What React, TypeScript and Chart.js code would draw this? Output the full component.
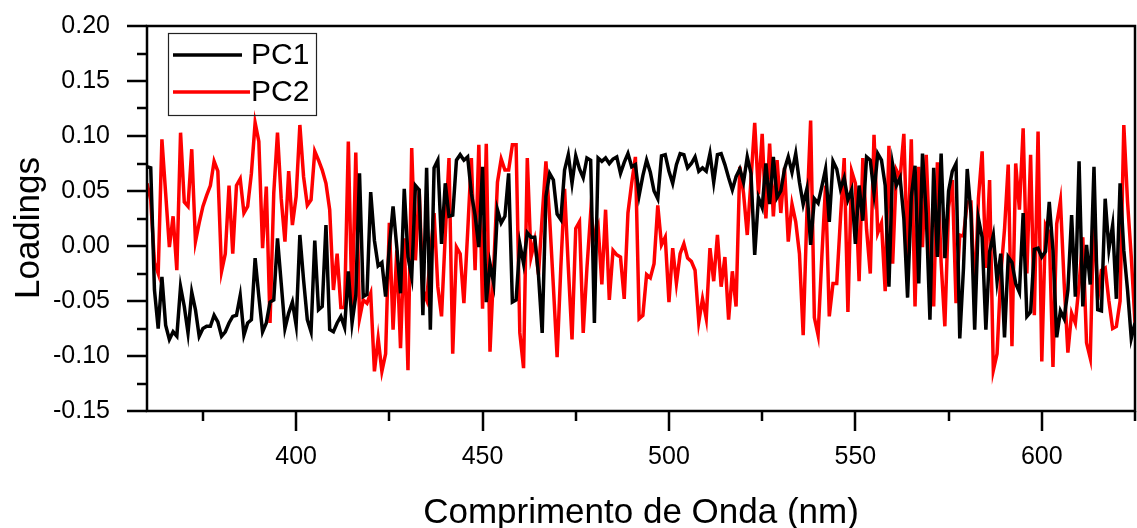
import React, { useEffect, useRef } from 'react';
import { Chart, registerables } from 'chart.js';

Chart.register(...registerables);

// Wavelength axis: 360 nm to 625 nm, one sample per nm
const WAVELENGTH_START = 360;

const PC1 = [
  0.072, 0.071, -0.040, -0.075, -0.028, -0.072, -0.085, -0.078, -0.082, -0.037,
  -0.055, -0.079, -0.042, -0.058, -0.082, -0.075, -0.073, -0.073, -0.063, -0.069,
  -0.082, -0.078, -0.070, -0.064, -0.063, -0.045, -0.081, -0.070, -0.067, -0.011,
  -0.046, -0.078, -0.070, -0.051, -0.049, 0.007, -0.034, -0.075, -0.061, -0.051,
  -0.072, 0.010, -0.031, -0.067, -0.078, 0.005, -0.058, -0.055, 0.019, -0.076,
  -0.078, -0.070, -0.064, -0.074, -0.023, -0.070, -0.045, 0.066, -0.046, -0.044,
  0.049, 0.005, -0.018, -0.015, -0.046, -0.001, 0.036, -0.001, -0.043, 0.052,
  -0.010, -0.028, 0.055, 0.051, -0.063, 0.071, -0.076, 0.071, 0.078, 0.002,
  0.057, 0.027, 0.028, 0.078, 0.083, 0.078, 0.081, 0.048, 0.028, -0.001,
  0.072, -0.051, -0.016, -0.034, 0.033, 0.021, 0.027, 0.066, -0.051, -0.049,
  0.002, -0.016, 0.012, 0.008, 0.008, -0.026, -0.079, 0.045, 0.066, 0.060,
  0.029, 0.024, 0.069, 0.083, 0.057, 0.082, 0.070, 0.062, 0.080, 0.078,
  -0.070, 0.080, 0.077, 0.080, 0.075, 0.079, 0.081, 0.066, 0.076, 0.084,
  0.072, 0.074, 0.046, 0.064, 0.078, 0.067, 0.050, 0.043, 0.082, 0.083,
  0.068, 0.057, 0.074, 0.084, 0.083, 0.071, 0.075, 0.081, 0.068, 0.071,
  0.068, 0.084, 0.058, 0.083, 0.084, 0.074, 0.062, 0.051, 0.063, 0.070,
  0.058, 0.081, 0.066, -0.008, 0.044, 0.035, 0.075, 0.038, 0.081, 0.044,
  0.050, 0.070, 0.081, 0.067, 0.084, 0.058, 0.038, 0.052, 0.001, 0.043,
  0.039, 0.054, 0.070, 0.022, 0.077, 0.070, 0.052, 0.062, 0.042, 0.051,
  0.002, 0.055, 0.023, 0.081, 0.078, 0.048, 0.084, 0.078, 0.055, -0.037,
  0.074, 0.055, 0.062, 0.025, -0.047, 0.045, 0.073, -0.034, 0.084, 0.030,
  -0.067, 0.071, -0.010, 0.084, -0.011, 0.050, 0.068, 0.075, -0.084, -0.020,
  0.070, 0.030, -0.076, 0.025, 0.008, -0.076, -0.005, 0.010, -0.032, -0.007,
  -0.083, -0.010, -0.015, -0.034, -0.042, 0.030, -0.064, -0.060, -0.003, -0.002,
  -0.010, -0.005, 0.040, -0.004, -0.083, -0.059, -0.066, -0.040, 0.028, -0.046,
  0.077, -0.055, 0.001, -0.035, 0.072, -0.058, -0.059, 0.043, -0.003, 0.019,
  -0.048, 0.057, -0.004, -0.040, -0.084, -0.070,
];

const PC2 = [
  0.057, 0.042, -0.015, -0.025, 0.097, 0.048, -0.001, 0.027, -0.022, 0.103,
  0.040, 0.036, 0.088, 0.004, 0.021, 0.036, 0.046, 0.055, 0.077, 0.068,
  -0.023, -0.007, 0.055, -0.007, 0.055, 0.061, 0.030, 0.036, 0.066, 0.112,
  0.095, -0.002, 0.054, -0.070, 0.048, 0.103, 0.043, 0.004, 0.068, 0.019,
  0.045, 0.110, 0.063, 0.037, 0.042, 0.086, 0.078, 0.069, 0.057, 0.033,
  -0.040, -0.007, -0.056, -0.056, 0.095, -0.060, 0.085, -0.066, -0.049, -0.052,
  -0.043, -0.114, -0.084, -0.114, -0.098, 0.021, -0.076, -0.004, -0.093, 0.007,
  -0.113, 0.089, -0.013, 0.052, -0.040, -0.049, -0.010, 0.030, -0.037, -0.064,
  0.010, 0.080, -0.098, -0.001, -0.007, -0.052, 0.012, 0.080, -0.022, 0.092,
  -0.057, 0.093, -0.096, -0.019, 0.058, 0.079, 0.069, 0.069, 0.092, 0.092,
  -0.079, -0.111, 0.080, -0.010, 0.005, -0.026, 0.027, 0.077, 0.025, -0.037,
  -0.101, -0.019, 0.052, -0.019, -0.085, 0.016, 0.022, -0.079, -0.020, 0.030,
  0.008, 0.018, -0.035, 0.033, -0.049, -0.004, -0.008, -0.010, -0.048, 0.030,
  0.057, 0.081, -0.066, -0.063, -0.026, -0.029, -0.016, 0.037, 0.001, 0.008,
  -0.051, -0.002, -0.034, -0.007, 0.002, -0.011, -0.014, -0.022, -0.069, -0.048,
  -0.066, -0.002, -0.032, 0.010, -0.037, -0.010, -0.067, -0.023, -0.055, 0.072,
  0.048, 0.010, 0.060, 0.112, 0.047, 0.102, 0.025, 0.093, 0.027, 0.078,
  0.030, 0.071, 0.004, 0.038, 0.022, -0.007, -0.081, 0.030, 0.114, -0.065,
  -0.081, -0.010, 0.055, -0.064, -0.034, -0.034, 0.025, 0.080, -0.060, 0.068,
  0.057, -0.032, 0.080, 0.015, -0.025, 0.101, 0.012, 0.021, -0.041, 0.091,
  -0.016, 0.069, 0.062, 0.102, -0.012, 0.097, -0.055, 0.072, -0.001, 0.083,
  -0.003, -0.055, 0.076, -0.015, -0.073, 0.035, 0.060, -0.052, 0.010, 0.009,
  0.040, 0.040, -0.049, 0.043, 0.086, -0.020, 0.060, -0.113, -0.098, -0.026,
  0.015, 0.074, -0.091, 0.075, 0.033, 0.107, -0.025, 0.083, -0.063, 0.104,
  -0.105, 0.019, 0.012, -0.110, 0.020, 0.041, -0.034, -0.097, -0.061, -0.070,
  -0.035, 0.008, -0.088, -0.102, 0.036, -0.049, -0.022, -0.020, -0.050, -0.075,
  -0.073, -0.050, 0.110, 0.040, -0.010, -0.070,
];

const WAVELENGTHS = PC1.map((_, i) => WAVELENGTH_START + i);

const SERIES_LABELS = ['PC1', 'PC2'];
const SERIES_COLORS = ['#000000', '#ff0000'];

const X_MIN = 360;
const X_MAX = 625;
const Y_MIN = -0.15;
const Y_MAX = 0.2;
const X_MAJOR = [400, 450, 500, 550, 600];
const X_MINOR = [375, 425, 475, 525, 575, 625];
const Y_MAJOR = [-0.15, -0.1, -0.05, 0, 0.05, 0.1, 0.15, 0.2];
const Y_MINOR = [-0.125, -0.075, -0.025, 0.025, 0.075, 0.125, 0.175];

const X_TITLE = 'Comprimento de Onda (nm)';
const Y_TITLE = 'Loadings';

const FONT = '"Liberation Sans", Arial, Helvetica, sans-serif';

const W = 1137;
const H = 528;
const AREA_LEFT = 147;
const AREA_TOP = 26;
const AREA_BOTTOM = 411;
const AREA_RIGHT = 1135;

const framePlugin = {
  id: 'originFrame',
  afterDraw(chart: any) {
    const { ctx, chartArea, scales } = chart;
    const { left, right, top, bottom } = chartArea;
    const x = scales.x;
    const y = scales.y;
    ctx.save();
    ctx.strokeStyle = '#000';
    ctx.lineWidth = 2.5;
    ctx.strokeRect(left, top, right - left, bottom - top);
    ctx.beginPath();
    X_MAJOR.forEach((v) => {
      const px = Math.round(x.getPixelForValue(v));
      ctx.moveTo(px, bottom);
      ctx.lineTo(px, bottom + 20);
    });
    X_MINOR.forEach((v) => {
      const px = Math.round(x.getPixelForValue(v));
      ctx.moveTo(px, bottom);
      ctx.lineTo(px, bottom + 10);
    });
    Y_MAJOR.forEach((v) => {
      const py = Math.round(y.getPixelForValue(v));
      ctx.moveTo(left, py);
      ctx.lineTo(left - 20, py);
    });
    Y_MINOR.forEach((v) => {
      const py = Math.round(y.getPixelForValue(v));
      ctx.moveTo(left, py);
      ctx.lineTo(left - 10, py);
    });
    ctx.stroke();

    // y axis title
    ctx.save();
    ctx.translate(29, 228);
    ctx.rotate(-Math.PI / 2);
    ctx.fillStyle = '#000';
    ctx.font = `35px ${FONT}`;
    ctx.textAlign = 'center';
    ctx.textBaseline = 'middle';
    ctx.fillText(Y_TITLE, 0, 0);
    ctx.restore();

    // legend
    ctx.lineWidth = 1.2;
    ctx.strokeStyle = '#222';
    ctx.strokeRect(168.5, 33.5, 148, 82);
    const rows = [55, 92];
    const lineEnds = [242, 250];
    ctx.font = `30px ${FONT}`;
    ctx.textAlign = 'left';
    ctx.textBaseline = 'middle';
    SERIES_LABELS.forEach((label, i) => {
      ctx.strokeStyle = SERIES_COLORS[i];
      ctx.lineWidth = 3.5;
      ctx.beginPath();
      ctx.moveTo(173, rows[i]);
      ctx.lineTo(lineEnds[i], rows[i]);
      ctx.stroke();
      ctx.fillStyle = '#000';
      ctx.fillText(label, 251, rows[i] + 1);
    });
    ctx.restore();
  },
};

export default function App() {
  const canvasRef = useRef<HTMLCanvasElement | null>(null);

  useEffect(() => {
    if (!canvasRef.current) return;
    const chart = new Chart(canvasRef.current, {
      type: 'line',
      data: {
        datasets: [PC1, PC2].map((vals, i) => ({
          label: SERIES_LABELS[i],
          data: vals.map((v, j) => ({ x: WAVELENGTHS[j], y: v })),
          borderColor: SERIES_COLORS[i],
          backgroundColor: SERIES_COLORS[i],
          borderWidth: 3.5,
          pointRadius: 0,
          tension: 0,
          fill: false,
        })),
      },
      options: {
        animation: false,
        responsive: false,
        maintainAspectRatio: false,
        layout: {
          padding: { top: AREA_TOP, right: W - AREA_RIGHT, left: 0, bottom: 0 },
        },
        plugins: {
          legend: { display: false },
          tooltip: { enabled: false },
        },
        scales: {
          x: {
            type: 'linear',
            min: X_MIN,
            max: X_MAX,
            afterFit(scale: any) {
              scale.height = H - AREA_BOTTOM;
            },
            border: { display: false },
            grid: {
              display: true,
              drawOnChartArea: false,
              drawTicks: true,
              tickLength: 31,
              tickColor: 'rgba(0,0,0,0)',
            },
            ticks: {
              stepSize: 25,
              autoSkip: false,
              maxRotation: 0,
              padding: 0,
              color: '#000',
              font: { family: FONT, size: 25 },
              callback: (v: any) => (Math.round(Number(v)) % 50 === 0 ? String(Math.round(Number(v))) : ''),
            },
            title: {
              display: true,
              text: X_TITLE,
              color: '#000',
              font: { family: FONT, size: 35, lineHeight: 0.85 },
              padding: { top: 0, bottom: 0 },
            },
          },
          y: {
            type: 'linear',
            min: Y_MIN,
            max: Y_MAX,
            afterFit(scale: any) {
              scale.width = AREA_LEFT;
            },
            border: { display: false },
            grid: {
              display: true,
              drawOnChartArea: false,
              drawTicks: true,
              tickLength: 37,
              tickColor: 'rgba(0,0,0,0)',
            },
            ticks: {
              stepSize: 0.025,
              autoSkip: false,
              padding: 0,
              color: '#000',
              font: { family: FONT, size: 25 },
              callback: (v: any) => {
                const r = Math.round(Number(v) * 1000);
                if (r % 50 !== 0) return '';
                return (Math.round(Number(v) * 100) / 100).toFixed(2);
              },
            },
          },
        },
      },
      plugins: [framePlugin],
    } as any);
    return () => chart.destroy();
  }, []);

  return (
    <div style={{ position: 'fixed', left: 0, top: 0, width: W, height: H, background: '#fff' }}>
      <canvas ref={canvasRef} width={W} height={H} style={{ width: W, height: H, display: 'block' }} />
    </div>
  );
}
